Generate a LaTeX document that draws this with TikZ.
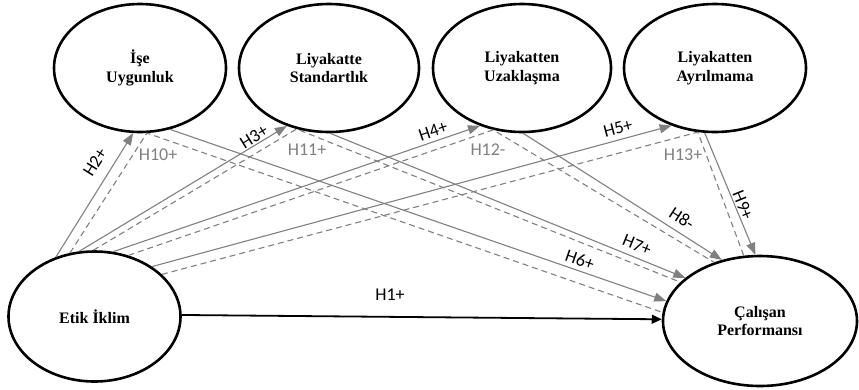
\documentclass[tikz,border=0pt]{standalone}
\usepackage{fontspec}
\setmainfont{Liberation Serif}
\newfontfamily\labfont{Carlito}
\usetikzlibrary{shapes.geometric,arrows.meta}
\definecolor{lgray}{HTML}{808080}
\begin{document}
\begin{tikzpicture}[x=1pt,y=-1pt,
  construct/.style={ellipse,draw,line width=2.6pt,inner sep=0pt,align=center,
    font=\fontsize{16}{18.5}\selectfont\bfseries},
  hyp/.style={draw=lgray,line width=1.1pt,-{Triangle[length=12pt,width=9pt]}},
  med/.style={draw=lgray,line width=1.1pt,dash pattern=on 6pt off 4pt},
  hlab/.style={font=\labfont\fontsize{18}{20}\selectfont,inner sep=0pt},
  glab/.style={hlab,text=lgray}]
\useasboundingbox (0,0) rectangle (859,389);
% constructs
\node[construct,minimum width=172pt,minimum height=128pt] (ise) at (140,68) {İşe\\Uygunluk};
\node[construct,minimum width=180pt,minimum height=128pt] (std) at (329,68) {Liyakatte\\Standartlık};
\node[construct,minimum width=178pt,minimum height=128pt] (uzak) at (522,68) {Liyakatten\\Uzaklaşma};
\node[construct,minimum width=182pt,minimum height=128pt] (ayr) at (715,68) {Liyakatten\\Ayrılmama};
\node[construct,minimum width=172pt,minimum height=130pt] (etik) at (94.5,316.5) {Etik İklim};
\node[construct,minimum width=194pt,minimum height=130pt] (cal) at (760,321) {Çalışan\\Performansı};
% mediation (dashed)
\draw[med] (etik.111) -- (ise.276) -- (cal.175);
\draw[med] (etik.91) -- (std.242) -- (cal.154);
\draw[med] (etik.61) -- (uzak.245) -- (cal.128);
\draw[med] (etik.32) -- (ayr.255) -- (cal.104);
% direct paths etik -> mediators
\draw[hyp] (etik.123) -- (ise.264);
\draw[hyp] (etik.103) -- (std.234);
\draw[hyp] (etik.74) -- (uzak.234.5);
\draw[hyp] (etik.41) -- (ayr.233);
% mediators -> cal
\draw[hyp] (ise.296) -- (cal.168.7);
\draw[hyp] (std.271) -- (cal.150.8);
\draw[hyp] (uzak.271) -- (cal.122);
\draw[hyp] (ayr.261) -- (cal.94.4);
% direct effect
\draw[line width=1.8pt,-{Triangle[length=10pt,width=9pt]}] (etik.1) -- (cal.179.4);
% labels
\node[hlab] (l1) at (390,295) {H1+};
\node[hlab,rotate=58] (l2) at (95,162) {H2+};
\node[hlab,rotate=32] (l3) at (254,137) {H3+};
\node[hlab,rotate=19] (l4) at (433,131) {H4+};
\node[hlab,rotate=15] (l5) at (618,128) {H5+};
\node[hlab,rotate=-19] (l6) at (580,260) {H6+};
\node[hlab,rotate=-22] (l7) at (637,245) {H7+};
\node[hlab,rotate=-33] (l8) at (682,218) {H8-};
\node[hlab,rotate=-68] (l9) at (743,205) {H9+};
\node[glab] (l10) at (158,155) {H10+};
\node[glab] (l11) at (307,150) {H11+};
\node[glab] (l12) at (488,150) {H12-};
\node[glab] (l13) at (683,155) {H13+};
\end{tikzpicture}
\end{document}
